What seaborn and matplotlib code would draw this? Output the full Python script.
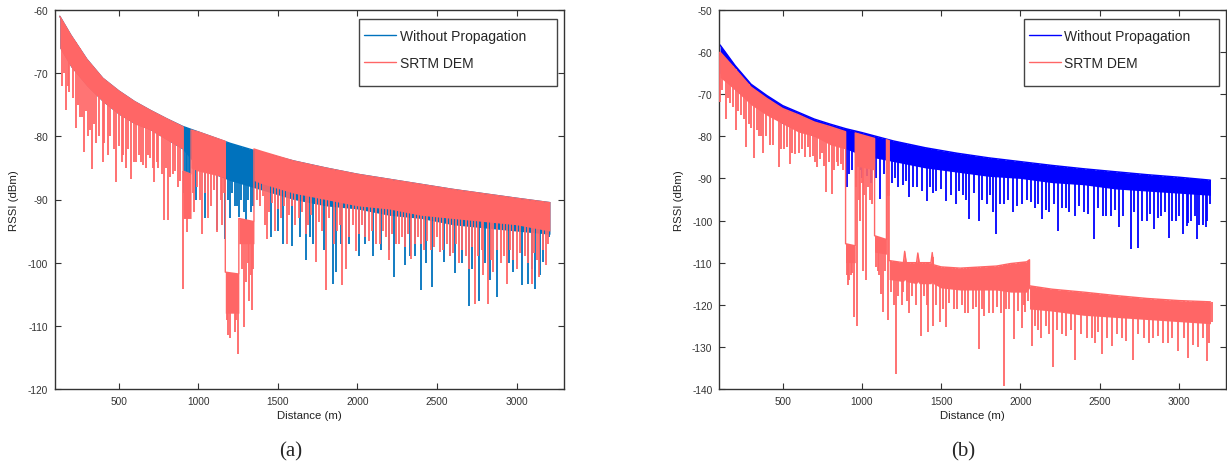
import numpy as np
import matplotlib
matplotlib.use('Agg')
import matplotlib.pyplot as plt
from matplotlib.patches import Rectangle
import seaborn as sns

# ---------------- panel (a) ----------------
a_dist = [130, 200, 300, 400, 500, 600, 700, 800, 900, 1000, 1200, 1400, 1600, 1800, 2000, 2200, 2400, 2600, 2800, 3000, 3210]
a_blue_top = [-61, -64.0, -67.8, -70.8, -72.8, -74.5, -75.9, -77.2, -78.4, -79.3, -81.1, -82.6, -83.9, -85.0, -86.0, -86.8, -87.6, -88.4, -89.1, -89.8, -90.5]
a_blue_floor = [-66, -69, -72, -74.5, -76.5, -78, -79, -80.5, -82, -85, -87, -88.5, -90, -91, -91.5, -92.5, -93, -94, -94.5, -95, -95.5]

a_red_dist = [130, 200, 300, 400, 500, 600, 700, 800, 905, 905, 955, 955, 1000, 1170, 1170, 1255, 1255, 1350, 1350, 1400, 1600, 1800, 2000, 2200, 2400, 2600, 2800, 3000, 3210]
a_red_top = [-61, -64, -67.8, -70.8, -72.8, -74.5, -75.9, -77.2, -78.5, -85.5, -86, -79, -79.3, -80.8, -101.5, -101.8, -93, -93.5, -82, -82.4, -83.9, -85.0, -86.0, -86.8, -87.6, -88.4, -89.1, -89.8, -90.5]
a_red_floor = [-66, -69, -72, -74.5, -76.5, -78, -79, -80.5, -82, -93, -93, -85, -85.5, -86.5, -108, -108, -97, -97, -87, -87.5, -89, -90, -91, -91.5, -92.5, -93, -93.5, -94, -95]

# deep drops
a_red_spk_x = [146, 170, 190, 230, 255, 283, 310, 331, 360, 399, 430, 483, 520, 545, 580, 610, 640, 670, 700, 724,
               750, 784, 808, 844, 870, 905, 929, 975, 1025, 1060, 1121, 1150, 1189, 1215, 1249, 1290, 1320, 1338, 1420, 1434,
               1480, 1555, 1610, 1675, 1740, 1803, 1850, 1904, 1928, 1993, 2050, 2120, 2200, 2260, 2337, 2400, 2460, 2518, 2580, 2640,
               2700, 2740, 2790, 2819, 2855, 2900, 2940, 3000, 3050, 3096, 3144, 3188]
a_red_spk_y = [-72.1, -75.9, -73, -78.7, -77, -82.5, -80, -85.1, -81, -84.1, -83, -87.3, -84, -85, -86.7, -84, -84.1, -85, -83.5, -87.3,
               -85, -93.3, -93.3, -85.9, -88, -104.1, -95.2, -92, -95.4, -93, -95.2, -94, -111.5, -108, -114.4, -110.2, -106, -107.5, -94, -96.2,
               -95, -97.0, -94, -95.4, -99.9, -104.4, -97, -103.6, -101, -98.1, -96, -97, -99.6, -97, -99.4, -97, -98, -98.3, -99, -100,
               -101, -106.5, -102, -106.5, -101.5, -100, -103.3, -101, -99, -103.3, -102.3, -100.4]
# ragged lower edge
a_red_mid_x = [155, 180, 210, 245, 270, 295, 320, 345, 375, 410, 445, 470, 500, 530, 560, 595, 625, 655, 685, 715,
               740, 770, 795, 825, 855, 885, 965, 995, 1010, 1045, 1080, 1100, 1140, 1160, 1180, 1200, 1230, 1240, 1275, 1300,
               1310, 1330, 1345, 1370, 1390, 1410, 1445, 1465, 1500, 1520, 1540, 1570, 1590, 1630, 1650, 1690, 1710, 1760, 1780, 1820,
               1870, 1890, 1950, 1970, 2010, 2030, 2070, 2090, 2140, 2160, 2180, 2220, 2240, 2280, 2300, 2320, 2360, 2380, 2420, 2440,
               2480, 2500, 2540, 2560, 2600, 2620, 2660, 2680, 2720, 2760, 2780, 2840, 2880, 2920, 2960, 2980, 3020, 3070, 3110, 3130,
               3165, 3200]
a_red_mid_y = [-70, -72, -74, -75, -77, -76, -79, -78, -80, -81, -80, -82, -81.5, -83, -82, -84, -83, -84.5, -83, -85,
               -84, -86, -85, -86.5, -85.5, -87, -89, -88, -90, -89, -91, -88.5, -90, -89, -109, -112, -111, -109, -101, -103,
               -100, -102, -101, -90, -91, -89.5, -92, -90.5, -91.5, -93, -91, -92.5, -91, -93, -92, -94, -92.5, -93.5, -95, -93,
               -95, -94, -96, -94, -95.5, -94, -96.5, -95, -97, -95, -96, -95.5, -97, -96, -97.5, -95.5, -97, -96, -98, -96.5,
               -97.5, -96, -98, -97, -98.5, -97, -98, -99, -97.5, -99, -98, -99.5, -98, -99, -98, -99.5, -98.5, -100, -98.5, -99.5,
               -98, -97]

a_blue_spk_x = [920, 940, 985, 1040, 1121, 1170, 1200, 1230, 1259, 1300, 1330, 1460, 1530, 1591, 1640, 1675, 1720, 1790, 1844, 1868,
                1950, 2010, 2097, 2150, 2229, 2301, 2360, 2398, 2470, 2542, 2615, 2660, 2699, 2766, 2831, 2875, 2976, 3036, 3072, 3116,
                3168, 3205]
a_blue_spk_y = [-90, -92, -90, -93, -94.9, -96.2, -93, -91, -92.8, -94, -92, -96, -97, -97.3, -96, -99.6, -97, -98, -103.3, -101.5,
                -97, -99, -98.9, -98, -102.3, -100.4, -99, -104.4, -103.9, -99.9, -101.7, -100, -106.8, -106, -102.8, -105.4, -101.5, -103.6, -103.3, -104.1,
                -99.9, -96]
a_blue_mid_x = [910, 930, 950, 1190, 1210, 1245, 1270, 1285, 1315, 1345, 1500, 1700, 1900, 2050, 2200, 2330, 2430, 2580, 2720, 2800,
                2950, 3100, 3150]
a_blue_mid_y = [-89, -88.5, -90, -90, -89, -91, -90, -92, -90, -91, -95, -96, -97, -97, -98, -99, -100, -99, -101, -100,
                -100, -101, -102]

# ---------------- panel (b) ----------------
b_dist = [105, 200, 300, 400, 500, 600, 700, 800, 900, 1000, 1200, 1400, 1600, 1800, 2000, 2200, 2400, 2600, 2800, 3000, 3200]
b_blue_top = [-58.3, -63.2, -67.6, -70.3, -72.7, -74.3, -75.9, -77.1, -78.2, -79.1, -81.1, -82.7, -84.0, -85.1, -86.0, -86.9, -87.7, -88.4, -89.1, -89.7, -90.4]
b_blue_floor = [-65, -69, -72, -74.5, -77, -78.5, -80, -81, -83, -84.5, -86, -87.5, -88.5, -89.5, -90, -91, -91.5, -92.5, -93, -93.5, -94]

b_red_dist = [105, 200, 300, 400, 500, 600, 700, 800, 897, 897, 958, 958, 1080, 1080, 1155, 1155, 1172, 1172, 1262, 1270,
              1280, 1345, 1353, 1362, 1436, 1444, 1452, 1500, 1620, 1850, 1940, 2040, 2058, 2058, 2200, 2400, 2600, 2800, 3000, 3200]
b_red_top = [-60, -64, -68.3, -71, -73.4, -74.9, -76.6, -77.7, -78.9, -105.5, -106, -79.2, -80.5, -103.6, -104.5, -80.8, -81, -109.5, -110, -107.3,
             -110, -110, -107.7, -110, -110, -107.6, -110.5, -111, -111.3, -110.8, -110.2, -109.8, -109.3, -115.5, -116.3, -117, -117.8, -118.5, -119, -119.3]
b_red_floor = [-66, -69, -72.5, -75, -77, -79, -80, -82, -83, -110, -110, -87, -88, -107.5, -108, -94, -94, -114, -114.5, -114,
               -114.5, -115, -114.5, -115, -115, -114.5, -115, -116, -116.5, -116.5, -117, -117, -116, -121, -121.5, -122.5, -123, -123.5, -124, -124.5]

b_red_spk_x = [106, 142, 170, 203, 240, 271, 300, 320, 350, 378, 420, 476, 510, 544, 580, 620, 660, 690, 719, 750,
               775, 812, 840, 865, 910, 930, 950, 971, 990, 1006, 1026, 1050, 1100, 1123, 1133, 1165, 1200, 1215, 1250, 1300,
               1374, 1420, 1447, 1493, 1531, 1580, 1650, 1700, 1740, 1772, 1830, 1895, 1930, 1960, 2008, 2029, 2075, 2130, 2205, 2260,
               2347, 2420, 2470, 2515, 2578, 2640, 2714, 2780, 2840, 2900, 2960, 2997, 3060, 3120, 3176, 3207]
b_red_spk_y = [-71.9, -75.9, -72, -78.6, -75, -82.6, -78, -85.2, -80, -83.9, -82, -87.3, -83, -86.6, -84.2, -83, -82.5, -84.6, -87.3, -84,
               -93.3, -93.7, -86, -86.6, -115.4, -113, -123, -125, -100, -112, -114, -95, -112, -117.5, -121.8, -123.7, -120, -136.4, -120, -122,
               -127.3, -126.5, -125, -124.1, -125.3, -121, -122, -121, -130.5, -122.6, -122, -139.2, -121, -128.2, -125.4, -121.8, -129.7, -128, -134.8, -127,
               -133, -128, -129, -131.6, -129.9, -128, -133, -128, -128, -129, -128, -131, -132.6, -130, -133.4, -124.2]
b_red_mid_x = [120, 155, 185, 220, 255, 285, 335, 365, 395, 440, 490, 525, 560, 600, 640, 675, 705, 735, 760, 790,
               825, 850, 880, 905, 920, 940, 965, 980, 1000, 1015, 1040, 1065, 1090, 1110, 1145, 1185, 1230, 1260, 1285, 1315,
               1340, 1390, 1410, 1470, 1510, 1550, 1600, 1630, 1670, 1720, 1760, 1800, 1850, 1880, 1910, 1985, 2020, 2050, 2090, 2110,
               2160, 2180, 2230, 2290, 2320, 2380, 2450, 2490, 2550, 2610, 2670, 2740, 2810, 2870, 2930, 3030, 3090, 3150, 3190]
b_red_mid_y = [-69, -71, -73, -74, -76, -77, -78.5, -80, -80, -82, -83, -82.5, -84, -84, -85, -85, -86, -85.5, -87, -86,
               -88, -87, -88, -113, -114, -112.5, -92, -95, -91, -94, -92, -96, -111, -113, -112, -117, -118, -117, -119, -118,
               -120, -118, -120, -120, -121, -119.5, -121, -120, -122, -120.5, -121, -122, -120.5, -122, -121, -121.5, -120, -119, -125, -126,
               -125, -127, -126, -127.5, -126, -127, -128, -126.5, -128, -127, -128.5, -127, -129, -127.5, -129, -128, -129.5, -128, -129]

b_blue_spk_x = [909, 940, 1000, 1060, 1116, 1165, 1230, 1298, 1350, 1408, 1470, 1530, 1591, 1640, 1676, 1741, 1790, 1829, 1845, 1900,
                1956, 2010, 2065, 2138, 2180, 2240, 2290, 2345, 2400, 2467, 2520, 2570, 2625, 2696, 2744, 2800, 2844, 2890, 2937, 2980,
                3027, 3051, 3080, 3112, 3150, 3173, 3197]
b_blue_spk_y = [-92.1, -88, -90, -91, -94.9, -91.7, -92, -94.5, -92, -95.3, -93, -95.3, -96, -94, -99.6, -100, -96, -98, -103.2, -96,
                -98, -96, -95.6, -99.6, -98, -102.5, -97, -98.8, -98, -104.4, -99, -99, -101.6, -106.8, -106.4, -100, -102, -99, -104.2, -100,
                -103.2, -101.2, -100, -104.4, -101, -101.6, -96]
b_blue_mid_x = [920, 960, 985, 1030, 1090, 1140, 1190, 1210, 1260, 1280, 1320, 1380, 1430, 1450, 1500, 1560, 1610, 1660, 1710, 1760,
                1810, 1870, 1920, 1980, 2040, 2090, 2110, 2160, 2210, 2260, 2310, 2370, 2430, 2490, 2540, 2600, 2650, 2720, 2770, 2820,
                2870, 2910, 2960, 3000, 3060, 3100, 3130, 3180]
b_blue_mid_y = [-89, -90, -88, -89.5, -90, -89, -91, -90, -91.5, -90.5, -92, -93, -92, -93.5, -92.5, -94, -93, -95, -93.5, -95,
                -94, -96, -95, -96.5, -95, -97, -96, -97.5, -96, -97, -98, -96.5, -98.5, -97, -99, -97.5, -99, -98, -100, -98.5,
                -99.5, -98, -100, -99, -100.5, -99, -101, -100]

labels = ['Without Propagation', 'SRTM DEM']
red = '#FF6666'

sns.set_style('ticks')
plt.rcParams['font.family'] = ['Liberation Sans', 'DejaVu Sans']
plt.rcParams['axes.unicode_minus'] = False


def draw_series(ax, dist, top, floor, spikes, color, label, z):
    ax.fill_between(dist, floor, top, color=color, lw=0, zorder=z)
    for sx, sy in spikes:
        start = np.interp(sx, dist, top)
        ax.vlines(sx, sy, start, color=color, lw=1.3, zorder=z)
    sns.lineplot(x=dist, y=top, estimator=None, sort=False, color=color, lw=1.0,
                 label=label, ax=ax, zorder=z + 0.5)


def style_axes(ax, ylim, box, hx):
    ax.set_xlim(100, 3300)
    ax.set_ylim(*ylim)
    ax.set_xticks([500, 1000, 1500, 2000, 2500, 3000])
    ax.set_yticks(np.arange(ylim[0], ylim[1] + 1, 10))
    ax.tick_params(direction='in', length=4, width=0.8, top=True, right=True,
                   labelsize=7.3, colors='#333333', pad=5)
    for s in ax.spines.values():
        s.set_linewidth(1.0)
        s.set_color('#333333')
    ax.set_xlabel('Distance (m)', fontsize=8.2, color='#222222', labelpad=3)
    ax.set_ylabel('RSSI (dBm)', fontsize=8.2, color='#222222', labelpad=6)
    # legend frame as in the original figure
    ax.add_patch(Rectangle((box[0], box[1]), box[2], box[3], transform=ax.transAxes,
                           facecolor='white', edgecolor='#444444', lw=1.0, zorder=9))
    leg = ax.legend(loc='upper left', bbox_to_anchor=(hx, 0.951), frameon=False,
                    fontsize=10, handlelength=2.3, handletextpad=0.25, labelspacing=0.95,
                    borderpad=0, borderaxespad=0)
    leg.set_zorder(10)


fig = plt.figure(figsize=(12.27, 4.64), dpi=100)
ax_a = fig.add_axes([55 / 1227, 74 / 464, 509.3 / 1227, 379 / 464])
ax_b = fig.add_axes([719.3 / 1227, 74 / 464, 507 / 1227, 379 / 464])

draw_series(ax_a, a_dist, a_blue_top, a_blue_floor,
            [(a_blue_spk_x, a_blue_spk_y), (a_blue_mid_x, a_blue_mid_y)], '#0072BD', labels[0], 2)
draw_series(ax_a, a_red_dist, a_red_top, a_red_floor,
            [(a_red_spk_x, a_red_spk_y), (a_red_mid_x, a_red_mid_y)], red, labels[1], 3)
style_axes(ax_a, (-120, -60), (0.597, 0.800, 0.389, 0.176), 0.607)

draw_series(ax_b, b_dist, b_blue_top, b_blue_floor,
            [(b_blue_spk_x, b_blue_spk_y), (b_blue_mid_x, b_blue_mid_y)], '#0000FF', labels[0], 2)
draw_series(ax_b, b_red_dist, b_red_top, b_red_floor,
            [(b_red_spk_x, b_red_spk_y), (b_red_mid_x, b_red_mid_y)], red, labels[1], 3)
style_axes(ax_b, (-140, -50), (0.601, 0.800, 0.385, 0.176), 0.611)

fig.text(291 / 1227, 1 - 452 / 464, '(a)', ha='center', va='center', family='Liberation Serif', fontsize=15)
fig.text(963 / 1227, 1 - 452 / 464, '(b)', ha='center', va='center', family='Liberation Serif', fontsize=15)

fig.savefig('out.png', dpi=100)
